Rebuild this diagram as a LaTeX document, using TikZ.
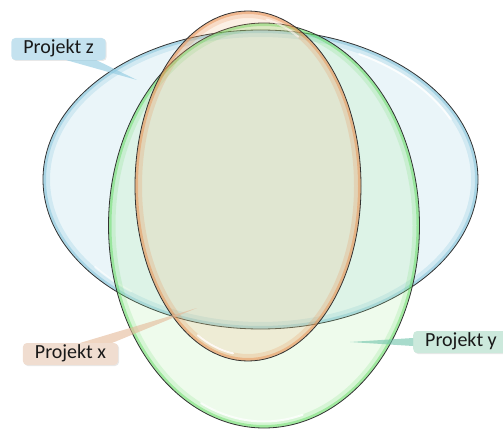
\documentclass[tikz,border=0pt]{standalone}
\usepackage{fontspec}
\setmainfont{Carlito}
\usetikzlibrary{shadows,calc}

% set colours: fill, inner rim, tag
\definecolor{zfill}{RGB}{170,215,232}
\definecolor{zrim}{RGB}{110,185,212}
\definecolor{ztag}{RGB}{196,226,239}
\definecolor{zlead}{RGB}{140,200,224}
\definecolor{yfill}{RGB}{170,235,160}
\definecolor{yrim}{RGB}{80,215,80}
\definecolor{ytag}{RGB}{204,233,220}
\definecolor{ylead}{RGB}{110,195,170}
\definecolor{xfill}{RGB}{240,170,110}
\definecolor{xrim}{RGB}{232,140,75}
\definecolor{xtag}{RGB}{240,221,208}
\definecolor{xlead}{RGB}{228,185,152}

\begin{document}
\begin{tikzpicture}[x=1pt,y=-1pt,
  outline/.style={draw=black!80, line width=0.8pt},
  gloss/.style={draw=white, line width=2pt, opacity=0.85, line cap=round},
  tag/.style={rounded corners=4pt, inner xsep=12pt, inner ysep=0pt,
    minimum height=22pt, text height=13pt, text depth=4pt,
    font=\fontsize{20}{24}\selectfont, text=black!90,
    drop shadow={opacity=0.18, shadow xshift=1pt, shadow yshift=-1pt}},
  lead/.style={fill opacity=0.6}
]
\useasboundingbox (0,0) rectangle (503,430);

\coordinate (zc) at (260.5,179.5);
\coordinate (yc) at (264.0,225.5);
\coordinate (xc) at (248.0,186.0);

% Projekt z: wide ellipse
\fill[zfill, fill opacity=0.25] (zc) ellipse[x radius=217.5pt, y radius=149.5pt];
\begin{scope}
  \clip (zc) ellipse[x radius=217.5pt, y radius=149.5pt];
  \draw[zrim, line width=14pt, opacity=0.2] (zc) ellipse[x radius=217.5pt, y radius=149.5pt];
  \draw[zrim, line width=6pt, opacity=0.4] (zc) ellipse[x radius=217.5pt, y radius=149.5pt];
\end{scope}
\draw[gloss] ($(zc)+(25:210pt and 142pt)$) arc[start angle=25, end angle=62, x radius=210pt, y radius=142pt];
\draw[gloss, opacity=0.6] ($(zc)+(218:210pt and 142pt)$) arc[start angle=218, end angle=232, x radius=210pt, y radius=142pt];
\draw[outline] (zc) ellipse[x radius=217.5pt, y radius=149.5pt];

% Projekt y: tall green ellipse
\fill[yfill, fill opacity=0.2] (yc) ellipse[x radius=155.5pt, y radius=202.5pt];
\begin{scope}
  \clip (yc) ellipse[x radius=155.5pt, y radius=202.5pt];
  \draw[yrim, line width=14pt, opacity=0.15] (yc) ellipse[x radius=155.5pt, y radius=202.5pt];
  \draw[yrim, line width=6pt, opacity=0.4] (yc) ellipse[x radius=155.5pt, y radius=202.5pt];
\end{scope}
\draw[gloss] ($(yc)+(245:149pt and 196pt)$) arc[start angle=245, end angle=285, x radius=149pt, y radius=196pt];
\draw[outline] (yc) ellipse[x radius=155.5pt, y radius=202.5pt];

% Projekt x: orange ellipse
\fill[xfill, fill opacity=0.18] (xc) ellipse[x radius=113pt, y radius=175pt];
\begin{scope}
  \clip (xc) ellipse[x radius=113pt, y radius=175pt];
  \draw[xrim, line width=14pt, opacity=0.2] (xc) ellipse[x radius=113pt, y radius=175pt];
  \draw[xrim, line width=6pt, opacity=0.45] (xc) ellipse[x radius=113pt, y radius=175pt];
\end{scope}
\draw[gloss] ($(xc)+(242:107pt and 169pt)$) arc[start angle=242, end angle=262, x radius=107pt, y radius=169pt];
\draw[gloss, opacity=0.6] ($(xc)+(62:107pt and 169pt)$) arc[start angle=62, end angle=80, x radius=107pt, y radius=169pt];
\draw[outline] (xc) ellipse[x radius=113pt, y radius=175pt];

% tags
\node[tag, fill=ztag] (zlab) at (58.5,49) {Projekt z};
\node[tag, fill=xtag] (xlab) at (70.5,354) {Projekt x};
\node[tag, fill=ytag, anchor=west] (ylab) at (413,342) {Projekt y};

% leader wedges from tags into their sets
\coordinate (ztip) at (137,80);
\coordinate (xtip) at (197,308);
\coordinate (ytip) at (350,342);
\fill[zlead, lead] ([xshift=8pt]zlab.south) -- (ztip) -- ([xshift=38pt]zlab.south) -- cycle;
\fill[xlead, lead] ([xshift=10pt]xlab.north) -- (xtip) -- ([xshift=42pt]xlab.north) -- cycle;
\fill[ylead, lead] ([yshift=4pt]ylab.west) -- (ytip) -- ([yshift=-4pt]ylab.west) -- cycle;
\end{tikzpicture}
\end{document}
